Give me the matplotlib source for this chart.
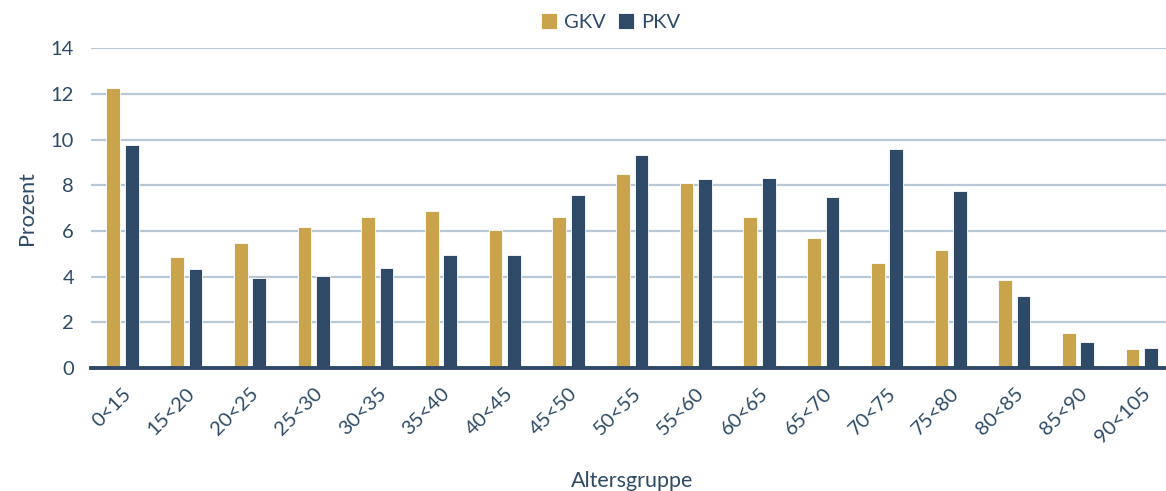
import numpy as np
import matplotlib
matplotlib.use("Agg")
import matplotlib.pyplot as plt

age_groups = ["0<15", "15<20", "20<25", "25<30", "30<35", "35<40", "40<45", "45<50",
              "50<55", "55<60", "60<65", "65<70", "70<75", "75<80", "80<85", "85<90", "90<105"]
gkv = [12.25, 4.88, 5.49, 6.15, 6.63, 6.85, 6.02, 6.63,
       8.48, 8.11, 6.63, 5.71, 4.59, 5.16, 3.83, 1.52, 0.81]
pkv = [9.78, 4.32, 3.92, 4.02, 4.36, 4.93, 4.93, 7.59,
       9.33, 8.28, 8.33, 7.47, 9.58, 7.76, 3.13, 1.13, 0.87]

GOLD = "#C9A44D"
NAVY = "#2E4A66"
TEXT = "#2E4A66"
GRID = "#B9C8D6"

plt.rcParams["font.family"] = ["Lato", "DejaVu Sans"]

fig = plt.figure(figsize=(11.66, 4.91), dpi=100)
ax = fig.add_axes([0.0778, 0.2505, 0.9287, 0.6515])

x = np.arange(len(age_groups))
w = 0.215
off = 0.145
ax.bar(x - off, gkv, width=w, color=GOLD, edgecolor="white", linewidth=0.6, label="GKV", zorder=3)
ax.bar(x + off, pkv, width=w, color=NAVY, edgecolor="white", linewidth=0.6, label="PKV", zorder=3)

ax.set_xlim(-0.5, len(age_groups) - 0.5)
ax.set_ylim(0, 14)
ax.set_yticks(range(0, 15, 2))
ax.yaxis.grid(True, color=GRID, linewidth=1.6, zorder=0)
ax.set_axisbelow(True)

for s in ["top", "right", "left"]:
    ax.spines[s].set_visible(False)
ax.spines["bottom"].set_color(NAVY)
ax.spines["bottom"].set_linewidth(2.8)
ax.spines["bottom"].set_zorder(4)

ax.set_xticks(x)
ax.set_xticklabels(age_groups, rotation=45, ha="right", rotation_mode="anchor")
ax.tick_params(axis="both", length=0, labelsize=14.5, colors=TEXT)
ax.tick_params(axis="x", pad=12)
ax.tick_params(axis="y", pad=12)

ax.set_ylabel("Prozent", fontsize=15.5, color=TEXT, labelpad=10)
ax.set_xlabel("Altersgruppe", fontsize=15.5, color=TEXT, labelpad=18)

ax.legend(loc="upper center", bbox_to_anchor=(0.48, 1.165), ncol=2, frameon=False,
          fontsize=14.5, labelcolor=TEXT, handlelength=0.8, handleheight=0.8,
          handletextpad=0.35, columnspacing=0.6)

fig.savefig("out.png", dpi=100)
